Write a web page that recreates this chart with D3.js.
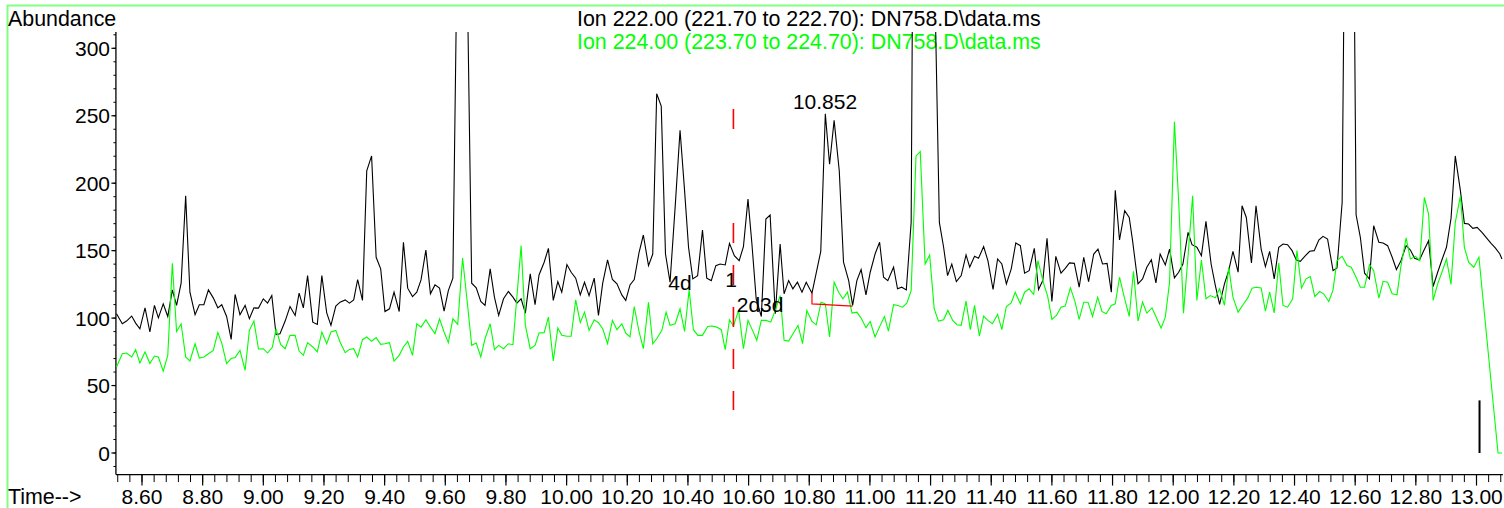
<!DOCTYPE html>
<html><head><meta charset="utf-8">
<script src="https://cdn.jsdelivr.net/npm/d3@7"></script>
<style>
html,body{margin:0;padding:0;background:#fff;overflow:hidden;}
svg{display:block;font-family:"Liberation Sans",Arial,sans-serif;}
</style></head><body>
<svg id="c" width="1504" height="508"></svg>
<script>
// ---- data ----
const ion222Times = [8.516,8.535,8.549,8.566,8.579,8.593,8.610,8.626,8.641,8.654,8.670,8.685,8.700,8.714,8.729,8.744,8.758,8.775,8.789,8.804,8.819,8.835,8.850,8.863,8.879,8.894,8.907,8.923,8.940,8.954,8.969,8.984,9.000,9.014,9.028,9.042,9.055,9.072,9.088,9.105,9.118,9.132,9.146,9.163,9.178,9.193,9.209,9.223,9.239,9.253,9.270,9.284,9.298,9.311,9.327,9.341,9.357,9.372,9.387,9.401,9.416,9.431,9.448,9.462,9.476,9.492,9.506,9.520,9.536,9.551,9.566,9.581,9.596,9.610,9.625,9.640,9.655,9.670,9.687,9.702,9.717,9.731,9.748,9.762,9.776,9.792,9.808,9.823,9.836,9.850,9.864,9.880,9.896,9.909,9.926,9.940,9.956,9.971,9.984,10.001,10.015,10.030,10.045,10.059,10.074,10.091,10.105,10.119,10.135,10.151,10.166,10.182,10.195,10.209,10.223,10.239,10.253,10.270,10.284,10.297,10.312,10.326,10.341,10.358,10.374,10.389,10.402,10.416,10.432,10.448,10.462,10.477,10.492,10.506,10.523,10.537,10.553,10.569,10.583,10.598,10.611,10.625,10.642,10.657,10.671,10.688,10.704,10.717,10.732,10.746,10.761,10.776,10.790,10.809,10.838,10.853,10.867,10.882,10.899,10.913,10.930,10.943,10.957,10.971,10.987,11.001,11.017,11.032,11.045,11.059,11.078,11.091,11.105,11.120,11.136,11.151,11.166,11.181,11.197,11.212,11.229,11.243,11.256,11.270,11.285,11.301,11.317,11.329,11.345,11.358,11.375,11.389,11.406,11.421,11.435,11.450,11.466,11.481,11.496,11.510,11.525,11.542,11.556,11.570,11.584,11.600,11.613,11.630,11.644,11.658,11.674,11.690,11.705,11.721,11.738,11.752,11.767,11.782,11.796,11.809,11.823,11.840,11.855,11.866,11.884,11.899,11.913,11.928,11.943,11.957,11.974,11.988,12.004,12.018,12.032,12.049,12.062,12.078,12.093,12.108,12.125,12.139,12.153,12.169,12.183,12.197,12.214,12.227,12.241,12.258,12.273,12.290,12.304,12.318,12.333,12.348,12.362,12.377,12.392,12.406,12.419,12.436,12.450,12.465,12.480,12.494,12.509,12.527,12.540,12.557,12.572,12.587,12.603,12.617,12.631,12.647,12.661,12.678,12.692,12.707,12.722,12.736,12.751,12.768,12.782,12.796,12.812,12.826,12.842,12.857,12.872,12.887,12.901,12.916,12.930,12.947,12.960,12.974,12.988,13.002,13.018,13.033,13.048,13.062,13.077,13.084];
const ion222Values = [103.2,95.8,97.8,101.5,96.3,92.1,107.6,89.7,109.4,100.2,110.6,101.2,120.9,109.4,125.9,190.6,119.2,102.5,109.9,109.9,120.9,115.0,107.6,109.9,101.2,84.2,117.5,102.5,109.4,99.5,107.6,107.4,114.3,111.1,116.7,87.7,88.4,97.8,108.6,102.0,118.5,107.6,131.5,97.0,95.3,131.5,103.9,94.6,108.9,111.8,113.5,111.1,113.5,128.6,113.1,209.1,220.2,145.1,136.5,104.9,106.9,119.2,104.9,156.2,122.2,116.0,119.2,128.3,150.5,118.0,124.6,122.2,105.2,120.4,129.6,390,650,390,125.9,122.4,112.3,109.4,136.5,115.5,102.0,114.3,119.7,115.5,111.1,114.3,103.7,132.8,109.9,132.0,141.4,151.7,113.1,127.1,119.2,139.7,134.0,129.6,117.2,126.6,116.7,129.6,102.0,125.9,143.1,128.6,125.4,117.2,113.1,124.6,128.6,148.8,161.6,138.9,147.5,266.3,257.1,147.5,126.6,182.8,239.2,194.3,152.5,129.1,131.5,165.3,129.6,127.8,138.9,140.1,139.4,155.4,146.3,142.6,153.0,188.2,154.9,114.3,101.2,173.4,176.4,103.2,154.9,118.0,127.8,121.7,126.6,119.2,126.6,118.5,149.5,251.5,214.0,246.6,209.1,141.4,127.8,109.4,127.8,136.0,117.2,134.0,147.5,156.2,130.3,127.8,137.7,121.7,122.9,120.9,171,760,1100,1300,900,370,170.9,152.5,131.5,140.1,127.1,131.5,146.8,137.7,145.8,144.3,153.0,142.6,121.2,143.8,140.1,125.4,136.5,155.7,153.7,133.3,135.2,151.7,121.2,127.8,159.1,112.3,145.8,133.3,136.9,140.9,140.6,122.9,145.1,127.1,147.5,151.2,140.1,140.6,119.2,194.8,157.9,179.6,174.6,157.4,125.4,129.1,137.7,143.3,126.1,147.5,139.4,151.2,129.8,134.0,140.1,163.5,154.4,152.5,146.3,171.7,140.1,124.1,110.1,125.4,135.2,149.5,134.0,183.3,174.6,140.9,183.3,151.2,138.2,149.5,129.1,152.5,154.9,154.4,150.0,143.1,142.1,146.3,149.5,150.0,157.9,160.6,158.6,135.2,137.2,185.7,570,630,176.6,159.9,133.3,129.1,168.5,156.2,155.7,153.7,145.1,136.0,142.6,153.7,150.5,144.3,143.1,150.0,157.4,123.4,134.0,143.8,152.5,173.9,220.2,194.3,170.2,169.7,166.5,167.2,163.5,159.4,155.4,152.0,147.5,143.8];

const ion224Times = [8.516,8.535,8.549,8.566,8.579,8.593,8.610,8.626,8.641,8.654,8.670,8.685,8.700,8.714,8.729,8.744,8.758,8.775,8.789,8.804,8.819,8.835,8.850,8.863,8.879,8.894,8.907,8.923,8.940,8.954,8.969,8.984,9.000,9.014,9.030,9.042,9.057,9.072,9.088,9.105,9.118,9.132,9.146,9.163,9.178,9.193,9.209,9.223,9.239,9.253,9.270,9.284,9.298,9.311,9.327,9.341,9.357,9.372,9.387,9.401,9.416,9.431,9.448,9.462,9.476,9.492,9.506,9.520,9.536,9.551,9.566,9.581,9.596,9.610,9.625,9.641,9.657,9.673,9.687,9.702,9.717,9.731,9.748,9.762,9.776,9.792,9.808,9.823,9.850,9.864,9.880,9.896,9.909,9.926,9.940,9.956,9.971,9.984,10.001,10.015,10.030,10.045,10.059,10.074,10.091,10.105,10.119,10.135,10.151,10.166,10.182,10.195,10.209,10.223,10.239,10.253,10.270,10.284,10.297,10.314,10.328,10.341,10.358,10.374,10.389,10.404,10.418,10.433,10.448,10.465,10.479,10.495,10.510,10.523,10.537,10.550,10.567,10.583,10.598,10.613,10.627,10.642,10.658,10.673,10.688,10.704,10.717,10.732,10.748,10.763,10.778,10.792,10.809,10.823,10.839,10.853,10.867,10.882,10.897,10.911,10.926,10.941,10.957,10.971,10.987,11.001,11.017,11.034,11.048,11.061,11.078,11.092,11.108,11.122,11.136,11.152,11.166,11.182,11.197,11.212,11.226,11.243,11.257,11.273,11.287,11.301,11.317,11.331,11.345,11.361,11.375,11.389,11.404,11.421,11.435,11.450,11.466,11.479,11.496,11.510,11.525,11.540,11.554,11.571,11.586,11.600,11.615,11.630,11.644,11.661,11.675,11.690,11.705,11.719,11.734,11.751,11.765,11.779,11.796,11.809,11.823,11.840,11.855,11.869,11.884,11.899,11.913,11.930,11.944,11.960,11.974,11.988,12.004,12.018,12.034,12.049,12.064,12.078,12.093,12.108,12.122,12.139,12.153,12.169,12.183,12.197,12.214,12.230,12.246,12.260,12.274,12.290,12.304,12.318,12.333,12.348,12.362,12.377,12.394,12.408,12.423,12.438,12.452,12.467,12.483,12.496,12.513,12.527,12.540,12.557,12.573,12.587,12.603,12.617,12.631,12.647,12.661,12.678,12.692,12.707,12.722,12.738,12.751,12.768,12.782,12.799,12.813,12.828,12.842,12.857,12.872,12.886,12.901,12.916,12.930,12.947,12.960,12.974,12.991,13.008,13.071,13.084];
const ion224Values = [63.8,73.6,74.1,71.2,76.6,66.7,74.9,66.3,71.9,71.2,60.6,72.4,140.6,90.1,95.8,71.2,68.2,81.0,70.4,71.2,73.6,76.1,89.2,81.5,66.3,70.0,70.7,76.1,61.3,90.9,97.8,77.1,77.3,74.1,78.6,92.1,80.5,77.3,87.2,87.2,75.6,72.4,81.8,78.6,74.9,89.7,81.0,89.7,90.9,82.3,74.4,76.8,77.3,71.2,84.0,86.0,82.8,85.5,80.5,81.0,81.8,68.2,72.4,78.6,82.8,72.4,95.8,93.3,98.8,93.3,88.4,99.5,89.7,81.8,99.5,95.3,144.6,110.6,79.8,81.5,71.2,84.7,95.8,76.6,79.8,77.3,81.0,80.3,153.7,94.6,77.3,79.8,88.9,89.2,100.7,68.2,92.6,87.2,86.5,86.5,113.5,96.6,104.4,90.9,98.8,96.6,92.1,81.0,98.3,91.4,95.8,88.9,86.0,108.6,89.7,77.3,111.8,81.0,84.7,90.9,104.4,94.6,95.8,106.9,90.1,120.9,91.4,87.2,87.2,93.8,94.1,93.3,91.4,76.6,98.8,94.1,105.7,77.3,98.3,90.9,83.5,98.3,98.3,97.0,105.7,116.7,83.5,83.0,88.9,94.6,81.0,105.7,97.5,95.0,111.8,110.6,86.0,126.6,119.2,114.3,119.2,103.7,104.4,100.0,92.9,97.5,86.0,94.6,101.2,90.4,109.9,109.4,108.1,111.3,120.4,220.2,223.4,140.1,146.8,106.9,97.8,98.8,105.7,98.3,95.1,94.6,112.6,91.4,109.4,86.7,101.5,98.3,95.8,102.7,91.4,108.6,111.3,119.2,110.6,119.2,121.7,117.5,142.6,127.1,116.3,99.0,102.0,108.1,108.9,122.4,113.1,99.0,111.8,111.8,101.2,115.5,104.9,103.2,109.4,110.6,130.3,114.3,101.2,134.7,97.8,111.8,103.7,107.6,100.7,92.6,100.7,126.6,245.6,186.9,103.7,146.3,190.6,113.1,143.1,114.3,116.7,115.0,121.7,109.4,137.7,115.5,104.4,109.9,115.0,122.2,122.9,122.4,105.2,119.2,103.9,140.9,109.4,108.1,114.3,150.0,122.2,129.1,130.8,116.0,119.7,118.0,112.3,120.9,142.6,145.8,138.9,137.7,130.3,122.9,122.9,139.7,135.2,114.8,127.3,126.6,118.0,117.2,138.9,159.4,143.8,145.8,142.6,189.4,177.1,113.1,125.4,134.0,143.8,124.9,170.9,190.6,152.5,141.4,137.7,145.2,0,0];

const yTickValues = [0, 50, 100, 150, 200, 250, 300];
const xTickLabels = ["8.60","8.80","9.00","9.20","9.40","9.60","9.80","10.00","10.20","10.40","10.60","10.80","11.00","11.20","11.40","11.60","11.80","12.00","12.20","12.40","12.60","12.80","13.00"];
const traceTitles = ["Ion 222.00 (221.70 to 222.70): DN758.D\\data.ms", "Ion 224.00 (223.70 to 224.70): DN758.D\\data.ms"];
const annotTexts = ["4d", "1", "2d3d"];
const annotTimes = [10.335, 10.523, 10.561];
const annotValues = [121.2, 123.4, 104.4];
const peakLabelText = "10.852";
const peakLabelTime = 10.852;
const peakLabelValue = 251.5;
const baselineTimes = [10.809, 10.809, 10.943];
const baselineValues = [118.5, 110.5, 108.9];
const markerTime = 10.55;
const markerValues = [255, 31.8];
const endMarkTime = 13.010;
const endMarkValues = [0, 39];
const timeExtent = [8.514, 13.087];
const abundanceExtent = [-16, 312];

// ---- drawing ----
const svg = d3.select("#c");
const x = d3.scaleLinear().domain([8.6, 13.0]).range([142, 1476.5]);
const y = d3.scaleLinear().domain([0, 300]).range([453, 48.3]);
const FONT = 21;
const TITLE_FONT = 21.4;

// frame
svg.append("rect").attr("x", 7.5).attr("y", 5.5).attr("width", 1520).attr("height", 520)
  .attr("fill", "none").attr("stroke", "#80ff80").attr("stroke-width", 2);

// titles
svg.append("text").attr("x", 8).attr("y", 26).attr("font-size", TITLE_FONT).attr("fill", "#000").text("Abundance");
svg.append("text").attr("x", 8).attr("y", 504).attr("font-size", TITLE_FONT).attr("fill", "#000").text("Time-->");
const titleColors = ["#000000", "#00ff00"];
traceTitles.forEach((t, i) => {
  svg.append("text").attr("x", 577).attr("y", 26 + i * 23).attr("font-size", TITLE_FONT)
    .attr("fill", titleColors[i]).text(t);
});

// axes lines
const xLeft = x(timeExtent[0]), xRight = x(timeExtent[1]);
const yTop = y(abundanceExtent[1]), yBot = y(abundanceExtent[0]);
svg.append("line").attr("x1", xLeft).attr("x2", xLeft).attr("y1", yTop).attr("y2", yBot)
  .attr("stroke", "#000").attr("stroke-width", 1.3);
svg.append("line").attr("x1", xLeft).attr("x2", xRight).attr("y1", yBot).attr("y2", yBot)
  .attr("stroke", "#000").attr("stroke-width", 1.3);

// y ticks
const yMinor = d3.range(-10, 311, 10);
svg.selectAll(".ymin").data(yMinor).enter().append("line")
  .attr("x1", xLeft - 2.5).attr("x2", xLeft).attr("y1", d => y(d)).attr("y2", d => y(d))
  .attr("stroke", "#000").attr("stroke-width", 1);
svg.selectAll(".ymaj").data(yTickValues).enter().append("line")
  .attr("x1", xLeft - 4.5).attr("x2", xLeft).attr("y1", d => y(d)).attr("y2", d => y(d))
  .attr("stroke", "#000").attr("stroke-width", 1.2);
svg.selectAll(".ylab").data(yTickValues).enter().append("text")
  .attr("x", 110).attr("y", d => y(d)).attr("dy", "0.36em").attr("text-anchor", "end")
  .attr("font-size", FONT).text(d => d);

// x ticks
const xMinor = d3.range(0, 115).map(i => 8.52 + i * 0.04).filter(v => v <= 13.085);
svg.selectAll(".xmin").data(xMinor).enter().append("line")
  .attr("x1", d => x(d)).attr("x2", d => x(d)).attr("y1", yBot).attr("y2", yBot + 7.5)
  .attr("stroke", "#000").attr("stroke-width", 1);
svg.selectAll(".xmaj").data(xTickLabels).enter().append("line")
  .attr("x1", d => x(+d)).attr("x2", d => x(+d)).attr("y1", yBot).attr("y2", yBot + 11)
  .attr("stroke", "#000").attr("stroke-width", 1.2);
svg.selectAll(".xlab").data(xTickLabels).enter().append("text")
  .attr("x", d => x(+d)).attr("y", 504).attr("text-anchor", "middle")
  .attr("font-size", FONT).text(d => d);

// clip
svg.append("clipPath").attr("id", "clip").append("rect")
  .attr("x", xLeft).attr("y", yTop).attr("width", 1504 - xLeft).attr("height", 508 - yTop);

const line = d3.line().x(d => x(d[0])).y(d => y(d[1]));
const g = svg.append("g").attr("clip-path", "url(#clip)");
g.append("path").datum(ion222Times.map((t, i) => [t, ion222Values[i]]))
  .attr("d", line).attr("fill", "none").attr("stroke", "#000").attr("stroke-width", 1.1)
  .attr("stroke-linejoin", "miter");
g.append("path").datum(ion224Times.map((t, i) => [t, ion224Values[i]]))
  .attr("d", line).attr("fill", "none").attr("stroke", "#00ff00").attr("stroke-width", 1.1);

// integration baseline (red)
g.append("path").datum(baselineTimes.map((t, i) => [t, baselineValues[i]]))
  .attr("d", line).attr("fill", "none").attr("stroke", "#ff0000").attr("stroke-width", 1.2);

// red dashed marker
svg.append("line").attr("x1", x(markerTime)).attr("x2", x(markerTime))
  .attr("y1", y(markerValues[0])).attr("y2", y(markerValues[1]))
  .attr("stroke", "#ff0000").attr("stroke-width", 1.6)
  .attr("stroke-dasharray", "20,94,20,22,20,22,20,22,20,22,20,100");

// end mark
svg.append("line").attr("x1", x(endMarkTime)).attr("x2", x(endMarkTime))
  .attr("y1", y(endMarkValues[0])).attr("y2", y(endMarkValues[1]))
  .attr("stroke", "#000").attr("stroke-width", 2);

// annotations
annotTexts.forEach((t, i) => {
  svg.append("text").attr("x", x(annotTimes[i])).attr("y", y(annotValues[i]))
    .attr("font-size", FONT).attr("fill", "#000").text(t);
});
svg.append("text").attr("x", x(peakLabelTime)).attr("y", y(peakLabelValue) - 5)
  .attr("text-anchor", "middle").attr("font-size", FONT).text(peakLabelText);
</script>
</body></html>
